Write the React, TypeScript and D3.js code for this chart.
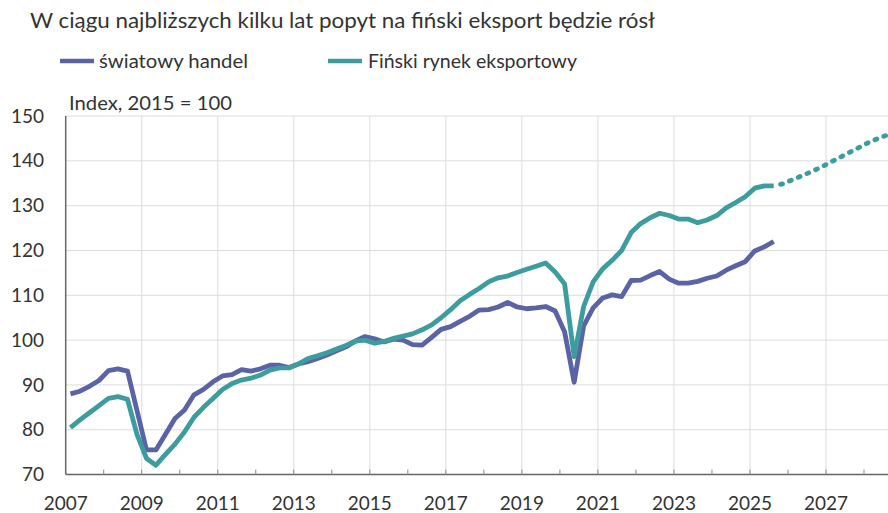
import React from "react";
import * as d3 from "d3";

const title = "W ciągu najbliższych kilku lat popyt na fiński eksport będzie rósł";
const seriesNames = ["światowy handel", "Fiński rynek eksportowy"];
const axisNote = "Index, 2015 = 100";
const startYear = 2007; // first quarter 2007Q1, quarterly data
const yTicks = [70, 80, 90, 100, 110, 120, 130, 140, 150];
const xLabels = [2007, 2009, 2011, 2013, 2015, 2017, 2019, 2021, 2023, 2025, 2027];

const worldTrade = [
  88.0, 88.6, 89.7, 91.0, 93.2, 93.6, 93.1, 84.3, 75.5, 75.5, 79.0, 82.5,
  84.4, 87.8, 89.0, 90.7, 92.0, 92.3, 93.4, 93.1, 93.6, 94.4, 94.4, 93.9,
  94.7, 95.2, 95.9, 96.7, 97.6, 98.5, 99.8, 100.8, 100.3, 99.6, 100.2, 100.0,
  99.0, 98.9, 100.6, 102.4, 103.0, 104.2, 105.3, 106.7, 106.8, 107.4, 108.4, 107.4,
  107.0, 107.2, 107.5, 106.5, 101.8, 90.6, 103.2, 107.2, 109.4, 110.1, 109.7, 113.3,
  113.4, 114.4, 115.3, 113.6, 112.7, 112.7, 113.1, 113.8, 114.3, 115.6, 116.6, 117.5,
  119.9, 120.8, 122.0,
];

const finnishMarket = [
  80.5, 82.2, 83.8, 85.4, 87.0, 87.4, 86.8, 79.0, 73.6, 72.1, 74.5, 76.8,
  79.5, 82.8, 85.0, 87.0, 89.0, 90.3, 91.1, 91.5, 92.2, 93.3, 93.8, 93.8,
  94.7, 95.9, 96.5, 97.2, 98.0, 98.8, 99.8, 100.0, 99.3, 99.7, 100.4, 100.9,
  101.4, 102.3, 103.4, 105.0, 106.8, 108.8, 110.2, 111.5, 113.0, 113.9, 114.3, 115.1,
  115.8, 116.5, 117.2, 115.2, 112.5, 96.3, 107.5, 113.0, 115.9, 117.8, 120.0, 124.0,
  126.0, 127.3, 128.3, 127.8, 127.0, 127.0, 126.2, 126.8, 127.8, 129.5, 130.7, 132.0,
  133.9, 134.4, 134.4,
];

// forecast starts at the last observed quarter
const forecastStartIndex = 74;
const finnishForecast = [
  134.4, 134.9, 135.8, 136.7, 137.6, 138.6, 139.7, 140.8, 141.9, 143.0, 144.1, 145.0, 145.8, 146.6,
];

const colors = { world: "#5b63a7", finn: "#3d9c9e" };

export default function App() {
  const W = 888;
  const H = 513;
  const x = d3.scaleLinear().domain([2007, 2027]).range([65.7, 826]);
  const y = d3.scaleLinear().domain([70, 150]).range([474.6, 116]);
  const qx = (i: number) => x(startYear + (i + 0.5) / 4);

  const line = d3
    .line<number>()
    .x((_, i) => qx(i))
    .y((d) => y(d));
  const fLine = d3
    .line<number>()
    .x((_, i) => qx(i + forecastStartIndex))
    .y((d) => y(d));

  const x0 = x(2007);
  const xEnd = x(2029.5);
  const gridYears = d3.range(2009, 2030, 2);
  const tickYears = d3.range(2008, 2030, 1);

  return (
    <svg
      width={W}
      height={H}
      style={{ position: "fixed", left: 0, top: 0, background: "#fff" }}
      fontFamily="Lato, 'Open Sans', sans-serif"
    >
      <text x={30} y={28} fontSize={21} fill="#333" textLength={625} lengthAdjust="spacingAndGlyphs">
        {title}
      </text>
      {/* legend */}
      <line x1={60} x2={94} y1={61} y2={61} stroke={colors.world} strokeWidth={4.5} />
      <text x={99} y={67.5} fontSize={19.5} fill="#333" textLength={149} lengthAdjust="spacingAndGlyphs">
        {seriesNames[0]}
      </text>
      <line x1={328} x2={362} y1={61} y2={61} stroke={colors.finn} strokeWidth={4.5} />
      <text x={368} y={67.5} fontSize={19.5} fill="#333" textLength={209} lengthAdjust="spacingAndGlyphs">
        {seriesNames[1]}
      </text>

      <text x={69} y={109.5} fontSize={18.5} fill="#333" textLength={163} lengthAdjust="spacingAndGlyphs">
        {axisNote}
      </text>

      {/* horizontal grid */}
      {yTicks.filter((t) => t > 70).map((t) => (
        <line key={"h" + t} x1={x0} x2={W} y1={y(t)} y2={y(t)} stroke="#dcdcdc" strokeWidth={1} />
      ))}
      {/* vertical grid */}
      {gridYears.map((yr) => (
        <line key={"v" + yr} x1={x(yr)} x2={x(yr)} y1={y(150)} y2={y(70)} stroke="#dcdcdc" strokeWidth={1} />
      ))}
      {/* axes */}
      <line x1={x0} x2={x0} y1={y(150)} y2={y(70)} stroke="#666" strokeWidth={1.5} />
      <line x1={x0} x2={xEnd} y1={y(70)} y2={y(70)} stroke="#666" strokeWidth={1.5} />
      {tickYears.map((yr) => (
        <line key={"t" + yr} x1={x(yr)} x2={x(yr)} y1={y(70) - 5} y2={y(70)} stroke="#888" strokeWidth={1} />
      ))}
      {/* y labels */}
      {yTicks.map((t) => (
        <text key={"yl" + t} x={44} y={y(t)} dy="0.35em" textAnchor="end" fontSize={19} fill="#333">
          {t}
        </text>
      ))}
      {/* x labels */}
      {xLabels.map((yr) => (
        <text key={"xl" + yr} x={x(yr)} y={510} textAnchor="middle" fontSize={19} fill="#333">
          {yr}
        </text>
      ))}

      {/* series */}
      <path d={line(worldTrade) || ""} fill="none" stroke={colors.world} strokeWidth={4.8} strokeLinejoin="round" />
      <path d={line(finnishMarket) || ""} fill="none" stroke={colors.finn} strokeWidth={4.8} strokeLinejoin="round" />
      <path
        d={fLine(finnishForecast) || ""}
        fill="none"
        stroke={colors.finn}
        strokeWidth={4.8}
        strokeDasharray="2 7.5"
        strokeLinecap="round"
        strokeDashoffset={-7}
      />
    </svg>
  );
}
